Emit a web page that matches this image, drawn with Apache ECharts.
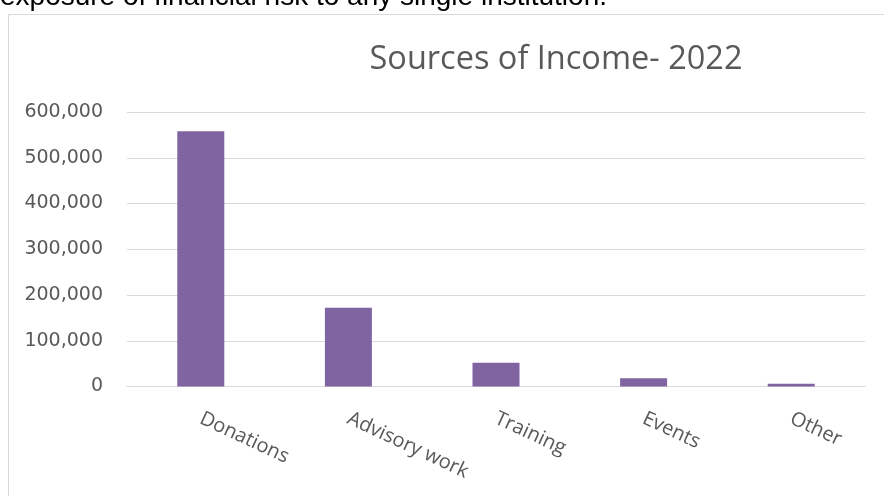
<!DOCTYPE html>
<html>
<head>
<meta charset="utf-8">
<script src="https://cdn.jsdelivr.net/npm/echarts@6/dist/echarts.min.js"></script>
<style>
  html, body { margin: 0; padding: 0; background: #ffffff; }
  #chart { width: 884px; height: 496px; }
</style>
</head>
<body>
<div id="chart"></div>
<script>
// Income by source, 2022
const categories = ['Donations', 'Advisory work', 'Training', 'Events', 'Other'];
const income = [558000, 172000, 52000, 18000, 6000];
const yTicks = [0, 100000, 200000, 300000, 400000, 500000, 600000];

const chart = echarts.init(document.getElementById('chart'), null, { renderer: 'canvas' });

const fmt = v => v.toLocaleString('en-US');

chart.setOption({
  backgroundColor: '#ffffff',
  animation: false,
  title: {
    text: 'Sources of Income- 2022',
    left: 551,
    textAlign: 'center',
    top: 38,
    textStyle: {
      fontFamily: 'Open Sans',
      fontSize: 32.5,
      fontWeight: 'normal',
      color: '#595959'
    }
  },
  graphic: [
    {
      type: 'rect',
      shape: { x: 8.5, y: 14.5, width: 900, height: 500 },
      style: { fill: 'none', stroke: '#d9d9d9', lineWidth: 1 },
      silent: true
    },
    {
      type: 'text',
      x: 0,
      y: -3,
      style: {
        text: 'exposure of financial risk to any single institution.',
        font: '28px "Liberation Sans"',
        fill: '#000000',
        align: 'left',
        verticalAlign: 'middle'
      },
      silent: true
    }
  ],
  grid: {
    left: 127,
    right: 19,
    top: 112,
    bottom: 109.5,
    containLabel: false
  },
  xAxis: {
    type: 'category',
    data: categories,
    axisTick: { show: false },
    axisLine: { lineStyle: { color: '#d9d9d9', width: 1 } },
    axisLabel: {
      rotate: -25,
      margin: 31,
      fontFamily: 'Open Sans',
      fontSize: 20,
      color: '#595959',
      interval: 0
    }
  },
  yAxis: {
    type: 'value',
    min: yTicks[0],
    max: yTicks[yTicks.length - 1],
    interval: yTicks[1] - yTicks[0],
    axisLine: { show: false },
    axisTick: { show: false },
    splitLine: { lineStyle: { color: '#d9d9d9', width: 1 } },
    axisLabel: {
      margin: 24,
      fontFamily: 'DejaVu Sans',
      fontSize: 19,
      color: '#595959',
      formatter: fmt
    }
  },
  series: [{
    type: 'bar',
    data: income,
    barWidth: 47,
    itemStyle: { color: '#8064a2' }
  }]
});
</script>
</body>
</html>
